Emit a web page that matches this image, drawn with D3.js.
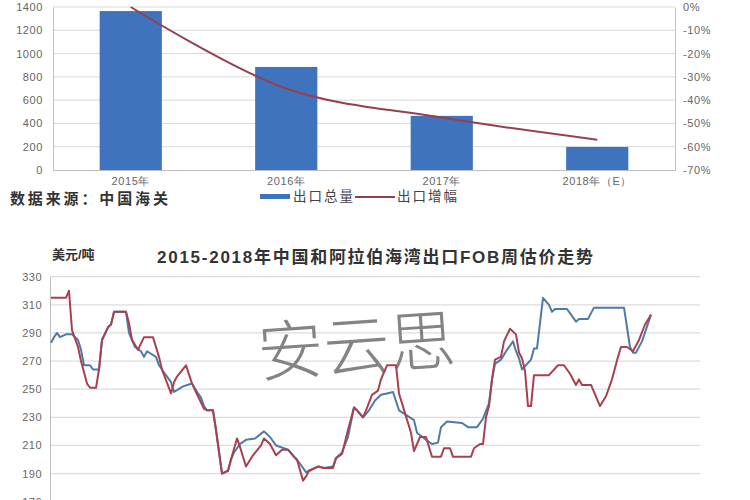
<!DOCTYPE html>
<html><head><meta charset="utf-8">
<script src="https://cdn.jsdelivr.net/npm/d3@7"></script>
<style>
body{margin:0;background:#fff;}
svg{display:block;font-family:"Liberation Sans","Noto Sans CJK SC",sans-serif;}
</style></head>
<body><svg id="c" width="750" height="500"></svg>
<script>
// ---------- top chart data ----------
const years = ["2015年","2016年","2017年","2018年（E）"];
const exportVolume = [1365, 885, 465, 198];
const exportGrowth = [0, -35, -47.5, -57];
const volumeTicks = [0,200,400,600,800,1000,1200,1400];
const growthTicks = [0,-10,-20,-30,-40,-50,-60,-70];
const legendNames = ["出口总量","出口增幅"];
const sourceNote = "数据来源：中国海关";

// ---------- bottom chart data ----------
const bottomTitle = "2015-2018年中国和阿拉伯海湾出口FOB周估价走势";
const unitLabel = "美元/吨";
const priceTicks = [170,190,210,230,250,270,290,310,330];
const blueWeeks  = [0,1,2,3,5,7,9,10,11,13,14,16,17,19,20,21,25,26,28,30,31,32,35,36,38,40,41,44,47,49,50,51,52,54,55,57,59,60,61,63,65,68,71,73,75,79,81,83,85,86,89,91,94,95,97,99,101,102,104,106,108,110,112,114,116,121,122,125,127,129,130,132,137,139,142,144,146,147,148,150,152,154,155,156,157,160,161,162,164,166,167,168,172,175,176,179,181,191,193,194,195,197,200];
const blueValues = [283,287,290,287,289,289,285,278,267,267,264,264,285,294,296,305,305,290,280,277,273,277,273,267,261,255,248,252,254,247,244,238,235,235,221,190,192,200,205,211,214,215,220,216,210,207,202,197,191,192,195,194,195,201,205,216,237,235,230,235,242,246,247,248,235,228,219,214,211,212,223,227,226,223,223,229,240,257,268,271,278,284,277,272,264,271,279,279,315,310,305,307,307,298,300,300,308,308,280,276,276,284,303];
const redWeeks   = [0,5,6,7,9,10,12,13,15,16,17,19,20,21,25,26,27,29,31,34,36,37,40,41,42,45,47,49,51,52,54,55,57,59,60,62,63,65,67,70,71,73,75,77,79,81,82,84,85,86,89,91,94,95,97,99,101,102,104,105,107,109,110,112,115,116,118,120,121,123,125,126,127,130,131,133,134,140,141,143,144,145,146,147,148,150,151,153,155,156,157,158,159,160,161,166,169,171,173,175,176,177,180,183,185,187,189,190,192,194,196,198,200];
const redValues  = [315,315,320,292,280,270,254,251,251,264,285,294,296,305,305,297,285,278,287,287,273,264,247,255,259,267,254,245,236,235,235,221,190,192,200,215,209,195,202,210,215,211,203,207,207,202,200,185,188,192,195,194,194,201,204,221,237,235,230,235,246,249,257,267,267,247,233,219,206,216,216,209,202,202,208,208,202,202,208,211,211,230,238,257,271,273,284,293,289,276,272,263,238,238,260,260,267,267,261,253,257,253,253,238,245,257,273,280,280,277,285,296,303];
const watermark = "安云思";

const svg = d3.select("#c");
const grid = "#d9d9d9", axisC = "#bfbfbf", txt = "#666";

// ================= TOP CHART =================
const x = d3.scaleBand().domain(years).range([53, 675]).paddingInner(0.6).paddingOuter(0.3);
const yL = d3.scaleLinear().domain([0, 1400]).range([170, 7]);
const yR = d3.scaleLinear().domain([-70, 0]).range([170, 7]);

const topG = svg.append("g");
topG.selectAll("line.g").data(volumeTicks.slice(1)).join("line")
  .attr("x1", 53).attr("x2", 675).attr("y1", d => yL(d)).attr("y2", d => yL(d))
  .attr("stroke", grid).attr("stroke-width", 1);

topG.selectAll("rect.bar").data(years).join("rect").attr("class", "bar")
  .attr("x", d => x(d)).attr("width", x.bandwidth())
  .attr("y", (d,i) => yL(exportVolume[i])).attr("height", (d,i) => yL(0) - yL(exportVolume[i]))
  .attr("fill", "#3f73be");

const axL = topG.append("g").attr("transform", "translate(53,0)")
  .call(d3.axisLeft(yL).tickValues(volumeTicks).tickSize(0).tickPadding(10).tickFormat(d3.format("d")));
const axR = topG.append("g").attr("transform", "translate(675,0)")
  .call(d3.axisRight(yR).tickValues(growthTicks).tickSize(0).tickPadding(8).tickFormat(d => d + "%"));
const axB = topG.append("g").attr("transform", "translate(0,170)")
  .call(d3.axisBottom(x).tickSize(0).tickPadding(7));
[axL, axR, axB].forEach(a => {
  a.select(".domain").attr("stroke", axisC);
  a.selectAll("text").attr("fill", txt).style("font-size", "11px").style("letter-spacing", "0.6px");
});

const growthLine = d3.line()
  .x((d,i) => x(years[i]) + x.bandwidth()/2)
  .y(d => yR(d))
  .curve(d3.curveCatmullRom.alpha(0.5));
topG.append("path").datum(exportGrowth).attr("d", growthLine)
  .attr("fill", "none").attr("stroke", "#94404f").attr("stroke-width", 2);

topG.append("text").attr("x", 10).attr("y", 204).text(sourceNote)
  .attr("font-weight", "bold").attr("fill", "#333").style("font-size", "15px")
  .attr("textLength", 158).attr("lengthAdjust", "spacing");
topG.append("rect").attr("x", 260).attr("y", 194).attr("width", 30).attr("height", 5).attr("fill", "#3f73be");
topG.append("text").attr("x", 293).attr("y", 201).text(legendNames[0])
  .attr("fill", "#444").style("font-size", "13.5px").attr("textLength", 60).attr("lengthAdjust", "spacing");
topG.append("line").attr("x1", 355).attr("x2", 395).attr("y1", 197).attr("y2", 197)
  .attr("stroke", "#94404f").attr("stroke-width", 2);
topG.append("text").attr("x", 397).attr("y", 201).text(legendNames[1])
  .attr("fill", "#444").style("font-size", "13.5px").attr("textLength", 60).attr("lengthAdjust", "spacing");

// ================= BOTTOM CHART =================
const xB = d3.scaleLinear().domain([0, 200]).range([51, 651]);
const yB = d3.scaleLinear().domain([170, 330]).range([501.7, 276.7]);
const bot = svg.append("g");

bot.selectAll("line.g").data(priceTicks).join("line")
  .attr("x1", 50).attr("x2", 700).attr("y1", d => yB(d)).attr("y2", d => yB(d))
  .attr("stroke", "#dcdcdc").attr("stroke-width", 1.2);

const axBL = bot.append("g").attr("transform", "translate(50,0)")
  .call(d3.axisLeft(yB).tickValues(priceTicks).tickSize(0).tickPadding(8));
axBL.select(".domain").attr("stroke", axisC);
axBL.selectAll("text").attr("fill", txt).style("font-size", "11px").style("letter-spacing", "0.5px");

bot.append("text").attr("x", 356).attr("y", 370).attr("text-anchor", "middle")
  .attr("transform", "rotate(-4,356,340)")
  .text(watermark).attr("fill", "#6f6f6f").attr("fill-opacity", 0.85)
  .style("font-family", "'Noto Sans CJK SC'").style("font-weight", "300").style("font-size", "66px");

const blueData = blueWeeks.map((w,i) => [w, blueValues[i]]);
const redData = redWeeks.map((w,i) => [w, redValues[i]]);
const pline = d3.line().x(d => xB(d[0])).y(d => yB(d[1]));
bot.append("path").datum(blueData).attr("d", pline)
  .attr("fill", "none").attr("stroke", "#4e7aa6").attr("stroke-width", 2).attr("stroke-linejoin", "round");
bot.append("path").datum(redData).attr("d", pline)
  .attr("fill", "none").attr("stroke", "#a8404f").attr("stroke-width", 2).attr("stroke-linejoin", "round");

bot.append("text").attr("x", 157).attr("y", 263).text(bottomTitle)
  .attr("font-weight", "bold").attr("fill", "#333").style("font-size", "17px")
  .attr("textLength", 436).attr("lengthAdjust", "spacing");
bot.append("text").attr("x", 52).attr("y", 259).text(unitLabel)
  .attr("font-weight", "bold").attr("fill", "#333").style("font-size", "13px");
</script></body></html>
